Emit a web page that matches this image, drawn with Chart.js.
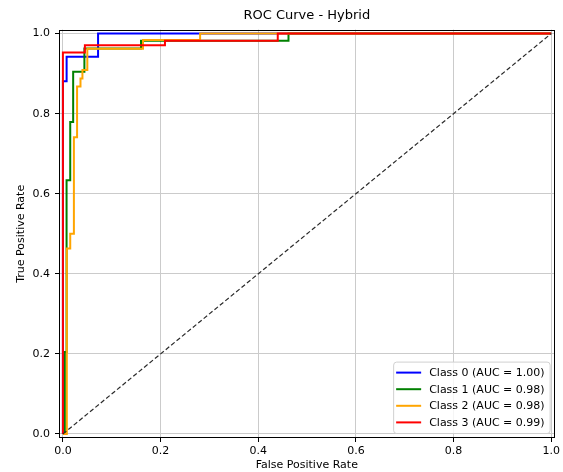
<!DOCTYPE html>
<html>
<head>
<meta charset="utf-8">
<script src="https://cdn.jsdelivr.net/npm/chart.js@4.4.1/dist/chart.umd.min.js"></script>
<style>
  html, body { margin: 0; padding: 0; background: #fff; }
</style>
</head>
<body>
<canvas id="roc" width="563" height="472"></canvas>
<script>
// ROC points (fpr / tpr pairs)
const classLabels = ['Class 0 (AUC = 1.00)', 'Class 1 (AUC = 0.98)', 'Class 2 (AUC = 0.98)', 'Class 3 (AUC = 0.99)'];
const classColors = ['#0000ff', '#008000', '#ffa500', '#ff0000'];

const fpr0 = [0, 0, 0.0076, 0.0076, 0.072, 0.072, 1];
const tpr0 = [0, 0.881, 0.881, 0.942, 0.942, 1, 1];

const fpr1 = [0, 0.004, 0.004, 0.0075, 0.0075, 0.015, 0.015, 0.021, 0.021, 0.044, 0.044, 0.16, 0.16, 0.462, 0.462, 1];
const tpr1 = [0, 0, 0.205, 0.205, 0.634, 0.634, 0.779, 0.779, 0.905, 0.905, 0.963, 0.963, 0.982, 0.982, 1, 1];

const fpr2 = [0, 0.008, 0.008, 0.015, 0.015, 0.0225, 0.0225, 0.029, 0.029, 0.036, 0.036, 0.040, 0.040, 0.050, 0.050, 0.164, 0.164, 0.281, 0.281, 1];
const tpr2 = [0, 0, 0.463, 0.463, 0.50, 0.50, 0.741, 0.741, 0.868, 0.868, 0.888, 0.888, 0.909, 0.909, 0.962, 0.962, 0.984, 0.984, 1, 1];

const fpr3 = [0, 0, 0.045, 0.045, 0.209, 0.209, 0.44, 0.44, 1];
const tpr3 = [0, 0.953, 0.953, 0.971, 0.971, 0.982, 0.982, 1, 1];

const diagX = [0, 1];
const diagY = [0, 1];

const tickVals = [0, 0.2, 0.4, 0.6, 0.8, 1.0];

const fprs = [fpr0, fpr1, fpr2, fpr3];
const tprs = [tpr0, tpr1, tpr2, tpr3];

function pts(xs, ys) {
  return xs.map((x, i) => ({ x: x, y: ys[i] }));
}

const datasets = fprs.map((f, k) => ({
  label: classLabels[k],
  data: pts(f, tprs[k]),
  borderColor: classColors[k],
  borderWidth: 2,
  pointRadius: 0,
  fill: false,
  order: 4 - k
}));
datasets.push({
  label: 'chance',
  data: pts(diagX, diagY),
  borderColor: '#2a2a2a',
  borderWidth: 1.2,
  borderDash: [4.5, 2.5],
  pointRadius: 0,
  fill: false,
  order: 0
});

// frame on all four sides + matplotlib-like legend in the lower right
const frameLegend = {
  id: 'frameLegend',
  afterLayout(chart) {
    // centre the title over the plot area, like matplotlib
    const tb = chart.titleBlock;
    if (tb) {
      tb.left = chart.chartArea.left;
      tb.right = chart.chartArea.right;
      tb.width = tb.right - tb.left;
    }
  },
  afterDraw(chart) {
    const ctx = chart.ctx;
    const a = chart.chartArea;
    ctx.save();
    ctx.strokeStyle = '#000';
    ctx.lineWidth = 1;
    ctx.strokeRect(Math.round(a.left) + 0.5, Math.round(a.top) + 0.5,
      Math.round(a.right - a.left) - 1, Math.round(a.bottom - a.top) - 1);

    ctx.font = '11px "DejaVu Sans"';
    let tw = 0;
    classLabels.forEach(l => { tw = Math.max(tw, ctx.measureText(l).width); });
    const padL = 3, handle = 25, gap = 8, padR = 5;
    const w = padL + handle + gap + tw + padR;
    const rowH = 16.6, h = 4 * rowH + 5;
    const right = a.right - 5, bottom = a.bottom - 5;
    const left = right - w, top = bottom - h;

    ctx.beginPath();
    ctx.roundRect(left + 0.5, top + 0.5, w, h, 3);
    ctx.fillStyle = 'rgba(255,255,255,0.8)';
    ctx.fill();
    ctx.strokeStyle = '#d0d0d0';
    ctx.stroke();

    classLabels.forEach((l, i) => {
      const y = top + 11 + i * rowH;
      ctx.beginPath();
      ctx.strokeStyle = classColors[i];
      ctx.lineWidth = 2;
      ctx.moveTo(left + padL, y);
      ctx.lineTo(left + padL + handle, y);
      ctx.stroke();
      ctx.fillStyle = '#000';
      ctx.textBaseline = 'middle';
      ctx.textAlign = 'left';
      ctx.fillText(l, left + padL + handle + gap, y + 0.5);
    });
    ctx.restore();
  }
};

Chart.defaults.font.family = '"DejaVu Sans", sans-serif';
Chart.defaults.color = '#000';

new Chart(document.getElementById('roc'), {
  type: 'line',
  data: { datasets: datasets },
  options: {
    responsive: false,
    animation: false,
    layout: { padding: { left: 0, right: 8, top: 0, bottom: 0 } },
    plugins: {
      legend: { display: false },
      tooltip: { enabled: false },
      title: {
        display: true,
        text: 'ROC Curve - Hybrid',
        font: { size: 13, weight: 'normal' },
        color: '#000',
        padding: { top: 8, bottom: 6 }
      }
    },
    scales: {
      x: {
        type: 'linear',
        min: -0.008,
        max: 1.007,
        afterBuildTicks: s => { s.ticks = tickVals.map(v => ({ value: v })); },
        afterFit: s => { s.height = 34; },
        border: { display: false },
        grid: { color: '#cbcbcb', lineWidth: 1, tickColor: '#000', tickLength: 4 },
        ticks: { font: { size: 11 }, color: '#000', padding: 3, maxRotation: 0, autoSkip: false,
          callback: v => v.toFixed(1) },
        title: { display: true, text: 'False Positive Rate', font: { size: 11 }, color: '#000',
          padding: { top: 0, bottom: 0 } }
      },
      y: {
        type: 'linear',
        min: -0.01,
        max: 1.01,
        afterBuildTicks: s => { s.ticks = tickVals.map(v => ({ value: v })); },
        afterFit: s => { s.width = 59; },
        border: { display: false },
        grid: { color: '#cbcbcb', lineWidth: 1, tickColor: '#000', tickLength: 4 },
        ticks: { font: { size: 11 }, color: '#000', padding: 5, autoSkip: false,
          callback: v => v.toFixed(1) },
        title: { display: true, text: 'True Positive Rate', font: { size: 11 }, color: '#000',
          padding: { top: 15, bottom: 0 } }
      }
    }
  },
  plugins: [frameLegend]
});
</script>
</body>
</html>
